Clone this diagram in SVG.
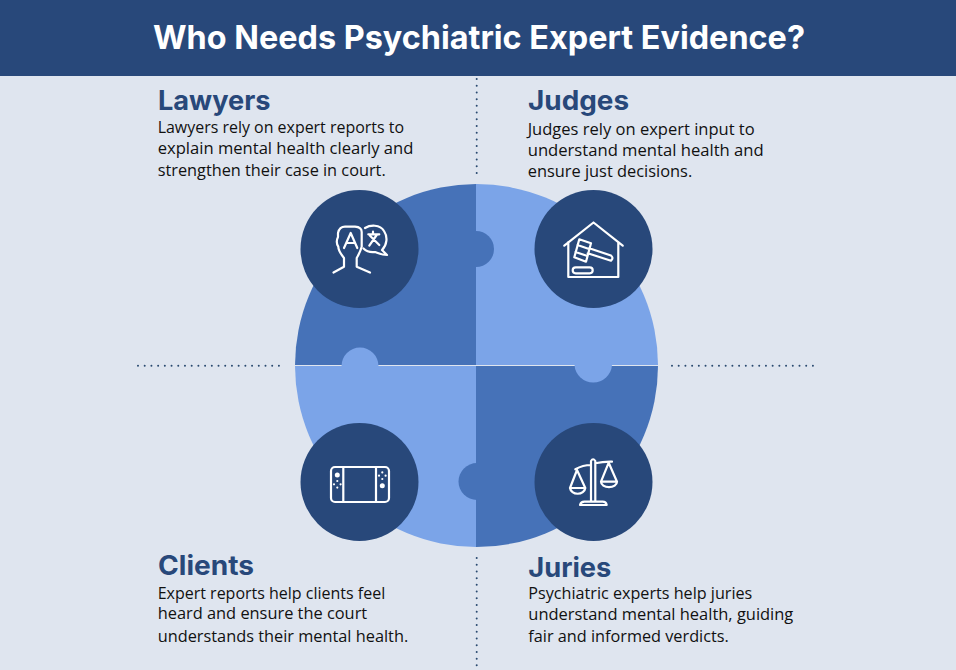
<svg xmlns="http://www.w3.org/2000/svg" width="956" height="670" viewBox="0 0 956 670">
<defs><style>
.h{font-family:"Inter","Open Sans","Liberation Sans",sans-serif;font-weight:700;font-size:27px;fill:#28487a}
.b{font-family:"Open Sans","Liberation Sans",sans-serif;font-size:16px;fill:#111}
.d{fill:none;stroke:#2a4a70;stroke-width:2;stroke-linecap:round;stroke-dasharray:0 6.71}
.i{fill:none;stroke:#fff;stroke-width:2.2;stroke-linecap:round;stroke-linejoin:round}
.w{fill:#fff}
.c{fill:#28487a}
.l{fill:#7ba4e8}.k{fill:#4672b8}
</style></defs>
<rect width="956" height="670" fill="#dfe5ef"/>
<rect width="956" height="76" fill="#28487a"/>
<text x="153" y="49" textLength="652" lengthAdjust="spacingAndGlyphs" style="font-family:Inter,'Open Sans',sans-serif;font-weight:700;font-size:33px;fill:#fff">Who Needs Psychiatric Expert Evidence?</text>
<g id="connectors">
<path class="d" d="M476.700 79V175M476.700 558V666M138 365.700H280M672 365.700H815"/>
</g>
<g id="puzzle">
<path class="k" d="M476 184A181.500 181.500 0 0 0 295 365H476Z"/>
<path class="l" d="M476 184A181.500 181.500 0 0 1 658 365H476Z"/>
<path class="l" d="M295 366A181.500 181.500 0 0 0 476 547V366Z"/>
<path class="k" d="M658 366A181.500 181.500 0 0 1 476 547V366Z"/>
<path class="k" d="M476 231A18 18 0 0 1 476 267Z"/>
<path class="l" d="M341.500 366A18.500 18.500 0 0 1 378.500 366Z"/>
<path class="l" d="M574.500 365A18.800 18.800 0 0 0 612 365Z"/>
<path class="k" d="M477 463A18.500 18.500 0 0 0 477 500Z"/>
</g>
<g id="lawyers">
<circle class="c" cx="359.500" cy="249" r="59"/>
<path class="i" d="M333.500 272.500L344 266.700V258C340 253 338.300 250 338.300 246.700C336 243 336.500 240 338 237V233C339 229 342 226.700 345 226.700H355C359 227 361.700 229 361.700 232V246.700C360.500 251 358.500 255 356.700 258V266.700L370 272.500"/>
<path class="i" d="M344 248L350.700 233L357.300 248M346.500 243H355"/>
<path class="i" d="M365 228C370 225 380 224 384 231C388 237 387 245 382 250L387 255C382 255 378 253 375 252C371 252.500 366 251 363.500 248.500"/>
<path class="i" d="M368.300 234.300H379.300M373 231.700V234.300M376.700 235L369.300 245.700M370 235.700L379.300 245"/>
<text class="h" x="158" y="110" textLength="112.500" lengthAdjust="spacingAndGlyphs">Lawyers</text>
<text class="b" x="157.700" y="132.700" textLength="246.300" lengthAdjust="spacingAndGlyphs">Lawyers rely on expert reports to</text>
<text class="b" x="157.700" y="154" textLength="255.700" lengthAdjust="spacingAndGlyphs">explain mental health clearly and</text>
<text class="b" x="157.700" y="176" textLength="228" lengthAdjust="spacingAndGlyphs">strengthen their case in court.</text>
</g>
<g id="judges">
<circle class="c" cx="593.500" cy="249" r="59"/>
<path class="i" d="M564.300 245.700L593.500 222.500L622.700 245.700M568.300 242V277H618.300V242"/>
<path class="i" d="M579.300 239.300L591 243.300L586 261.700L574.300 257.300ZM577.500 245L589 249M575.500 252L587.500 256M589.300 248.300L611 255.500Q614 258 611 260.700L587.700 253.300"/>
<rect class="i" x="572.700" y="267.300" width="20" height="6" rx="3"/>
<text class="h" x="528" y="110" textLength="101" lengthAdjust="spacingAndGlyphs">Judges</text>
<text class="b" x="527.700" y="135" textLength="227" lengthAdjust="spacingAndGlyphs">Judges rely on expert input to</text>
<text class="b" x="527.700" y="156" textLength="236" lengthAdjust="spacingAndGlyphs">understand mental health and</text>
<text class="b" x="527.700" y="177" textLength="164.500" lengthAdjust="spacingAndGlyphs">ensure just decisions.</text>
</g>
<g id="clients">
<circle class="c" cx="359.500" cy="482" r="59"/>
<rect class="i" x="331" y="467" width="58" height="35" rx="4"/>
<path class="i" d="M343.300 467V502M376 467V502"/>
<circle class="w" cx="337.300" cy="475" r="2.500"/><circle class="w" cx="382.300" cy="485.700" r="2.500"/>
<g class="w">
<circle cx="337.300" cy="481" r="1.100"/><circle cx="337.300" cy="487.600" r="1.100"/><circle cx="334" cy="484.300" r="1.100"/><circle cx="340.600" cy="484.300" r="1.100"/>
<circle cx="382.300" cy="472.400" r="1.100"/><circle cx="382.300" cy="479" r="1.100"/><circle cx="379" cy="475.700" r="1.100"/><circle cx="385.600" cy="475.700" r="1.100"/>
</g>
<text class="h" x="158" y="575" textLength="96" lengthAdjust="spacingAndGlyphs">Clients</text>
<text class="b" x="157.700" y="599" textLength="227.500" lengthAdjust="spacingAndGlyphs">Expert reports help clients feel</text>
<text class="b" x="157.700" y="619" textLength="209.500" lengthAdjust="spacingAndGlyphs">heard and ensure the court</text>
<text class="b" x="157.700" y="642" textLength="250.500" lengthAdjust="spacingAndGlyphs">understands their mental health.</text>
</g>
<g id="juries">
<circle class="c" cx="593.500" cy="482" r="59"/>
<path class="i" d="M591 461Q593 457.500 595.300 461V501.700H591ZM580 505Q581 501.700 584.300 501.700H602.700Q606 501.700 606.700 505ZM575.300 469.300Q583 465 591 465M595.300 463.300Q603 461.500 612 461.700"/>
<path class="i" d="M577 470L570 488A7.700 6.500 0 0 0 585.300 488ZM570 488H585.300M608.700 462.700L601 481.700A8 5.500 0 0 0 617 481.700ZM601 481.700H617"/>
<text class="h" x="528.300" y="576.700" textLength="83" lengthAdjust="spacingAndGlyphs">Juries</text>
<text class="b" x="528.300" y="598.500" textLength="224" lengthAdjust="spacingAndGlyphs">Psychiatric experts help juries</text>
<text class="b" x="528.300" y="619.500" textLength="265" lengthAdjust="spacingAndGlyphs">understand mental health, guiding</text>
<text class="b" x="528.300" y="641.500" textLength="200.500" lengthAdjust="spacingAndGlyphs">fair and informed verdicts.</text>
</g>
</svg>
